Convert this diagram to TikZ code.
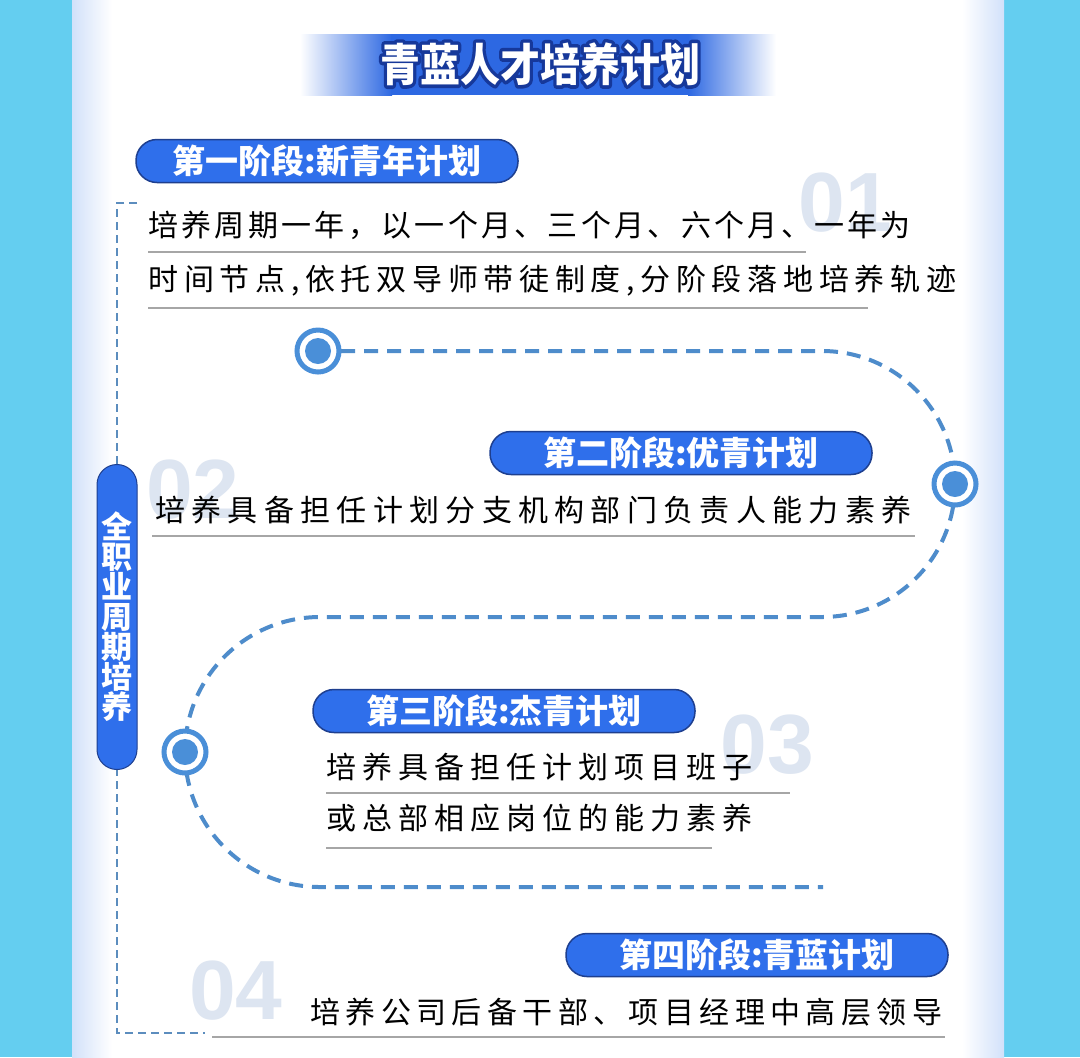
\documentclass[tikz,border=0pt]{standalone}
\usepackage{fontspec}
\usetikzlibrary{positioning}
\newfontfamily\cjk{Noto Sans CJK SC}
\newfontfamily\numfont{Liberation Sans}
% navy rim laid under the white letters (text render mode 2)
\newcommand\rimtext[1]{\rlap{\color{titleline}\special{pdf:literal 2 Tr 1 j 3.2 w}#1\special{pdf:literal 0 Tr}}#1}
\definecolor{sky}{HTML}{64CEF0}
\definecolor{edgeblue}{HTML}{D2E1FA}
\definecolor{bannerblue}{HTML}{2D68E2}
\definecolor{titleline}{HTML}{16389A}
\definecolor{pillblue}{HTML}{2F6FEB}
\definecolor{pillline}{HTML}{1E3F8F}
\definecolor{snakeblue}{HTML}{4E8CCB}
\definecolor{dotblue}{HTML}{4A8FD8}
\definecolor{numgray}{HTML}{DDE5F1}
\definecolor{rulegray}{HTML}{A6A6A6}
\definecolor{bracketblue}{HTML}{5C8DBE}

\begin{document}
\begin{tikzpicture}[x=0.5pt, y=-0.5pt, every node/.style={inner sep=0pt},
  stagebox/.style={draw=pillline, line width=0.75pt, fill=pillblue, rounded corners=10.5pt,
    minimum width=191pt, minimum height=21.5pt, text=white, font=\cjk\bfseries\fontsize{16.5}{18}\selectfont},
  body/.style={anchor=west, text=black, font=\cjk\fontsize{15}{16}\selectfont\addfontfeatures{LetterSpace=#1}},
  bignum/.style={text=numgray, font=\numfont\bfseries\fontsize{42}{44}\selectfont},
  ring/.style={circle, draw=dotblue, line width=2.5pt, fill=white, minimum size=21pt,
    path picture={\fill[dotblue] (path picture bounding box.center) circle[radius=6.5pt];}},
  rule/.style={draw=rulegray, line width=1pt},
  snake/.style={draw=snakeblue, line width=2pt, dash pattern=on 7pt off 4.5pt},
  bracket/.style={draw=bracketblue, line width=1pt, dash pattern=on 4pt off 2.5pt}]
  \useasboundingbox (0,0) rectangle (1080,1057);
  % page and panel
  \fill[sky] (0,0) rectangle (1080,1057);
  \fill[white] (72,0) rectangle (1004,1057);
  \shade[left color=edgeblue, right color=white] (72,0) rectangle (112,1057);
  \shade[left color=white, right color=edgeblue] (962,0) rectangle (1004,1057);
  % title banner
  \shade[left color=white, right color=bannerblue] (300,34) rectangle (392,95);
  \fill[bannerblue] (391,34) rectangle (689,95);
  \shade[left color=bannerblue, right color=white] (688,34) rectangle (776,95);
  \node[text=white, font=\cjk\bfseries\fontsize{20}{22}\selectfont] (title) at (540,64)
    {\scalebox{1}[1.12]{\rimtext{青蓝人才培养计划}}};
  % big numbers behind the text
  \node[bignum] (n1) at (845,203) {01};
  \node[bignum] (n2) at (193,490) {02};
  \node[bignum] (n3) at (767,745) {03};
  \node[bignum] (n4) at (236,991) {04};
  % left bracket and side label
  \draw[bracket] (137,203) -- (117,203) -- (117,1033) -- (205,1033);
  \node[draw=pillline, line width=0.5pt, fill=pillblue, rounded corners=10pt, minimum width=20pt,
    minimum height=152.5pt, text=white, align=center,
    font=\cjk\bfseries\fontsize{15.5}{15}\selectfont] (side) at (117,617)
    {全\\职\\业\\周\\期\\培\\养};
  % winding path
  \coordinate (p1) at (318,351);
  \coordinate (p2) at (955,484);
  \coordinate (p3) at (185,752);
  \coordinate (tail) at (823,887);
  \draw[snake] (p1) -- (822,351) arc[start angle=-90, end angle=90, radius=133]
    -- (320,617) arc[start angle=-90, end angle=-270, radius=135] -- (tail);
  \node[ring] (c1) at (p1) {};
  \node[ring] (c2) at (p2) {};
  \node[ring] (c3) at (p3) {};
  % stage 1
  \node[stagebox] (s1) at (327,161) {第一阶段:新青年计划};
  \node[body=11] (b1a) at (148,225) {培养周期一年，以一个月、三个月、六个月、一年为};
  \node[body=19] (b1b) at (148,281) {时间节点,依托双导师带徒制度,分阶段落地培养轨迹};
  \draw[rule] (148,252) -- (806,252);
  \draw[rule] (148,308) -- (868,308);
  % stage 2
  \node[stagebox] (s2) at (681,453) {第二阶段:优青计划};
  \node[body=21] (b2) at (155,510) {培养具备担任计划分支机构部门负责人能力素养};
  \draw[rule] (152,536) -- (915,536);
  % stage 3
  \node[stagebox] (s3) at (504,711) {第三阶段:杰青计划};
  \node[body=20] (b3a) at (326,767) {培养具备担任计划项目班子};
  \node[body=20] (b3b) at (326,818) {或总部相应岗位的能力素养};
  \draw[rule] (326,793) -- (790,793);
  \draw[rule] (326,848) -- (712,848);
  % stage 4
  \node[stagebox] (s4) at (757,955) {第四阶段:青蓝计划};
  \node[body=18] (b4) at (310,1012) {培养公司后备干部、项目经理中高层领导};
  \draw[rule] (212,1037) -- (945,1037);
\end{tikzpicture}
\end{document}
